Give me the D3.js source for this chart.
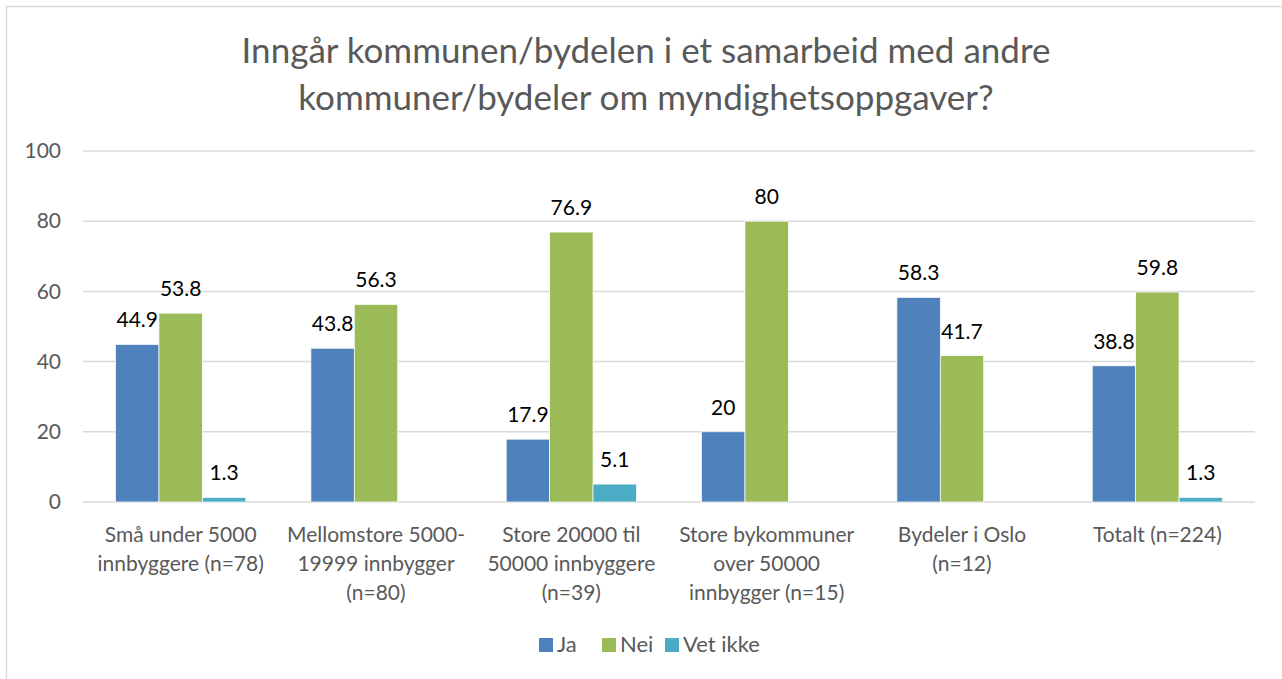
<!DOCTYPE html>
<html><head><meta charset="utf-8">
<script src="https://cdn.jsdelivr.net/npm/d3@7"></script>
<style>body{margin:0;background:#fff;}svg{display:block;font-family:Lato,"Open Sans",sans-serif;}</style>
</head><body>
<svg id="chart" width="1282" height="679"></svg>
<script>
const titleLines = ["Inngår kommunen/bydelen i et samarbeid med andre", "kommuner/bydeler om myndighetsoppgaver?"];
const categories = [
  ["Små under 5000", "innbyggere (n=78)"],
  ["Mellomstore 5000-", "19999 innbygger", "(n=80)"],
  ["Store 20000 til", "50000 innbyggere", "(n=39)"],
  ["Store bykommuner", "over 50000", "innbygger (n=15)"],
  ["Bydeler i Oslo", "(n=12)"],
  ["Totalt (n=224)"]
];
const seriesNames = ["Ja", "Nei", "Vet ikke"];
const jaValues = [44.9, 43.8, 17.9, 20, 58.3, 38.8];
const neiValues = [53.8, 56.3, 76.9, 80, 41.7, 59.8];
const vetIkkeValues = [1.3, null, 5.1, null, null, 1.3];
const yTicks = [0, 20, 40, 60, 80, 100];
const colors = ["#4f81bd", "#9bbb59", "#4bacc6"];

const svg = d3.select("#chart");
svg.append("rect").attr("x", 6.5).attr("y", 6.5).attr("width", 1300).attr("height", 700)
  .attr("fill", "#fff").attr("stroke", "#d9d9d9").attr("stroke-width", 1.5);

const pLeft = 83, pRight = 1255, pTop = 151, pBottom = 502;
const x = d3.scaleBand().domain(d3.range(categories.length)).range([pLeft, pRight]);
const y = d3.scaleLinear().domain([0, 100]).range([pBottom, pTop]);
const bw = x.bandwidth() / 4.5;
const xs = d3.scaleBand().domain(d3.range(3)).range([0, bw * 3]);

// title
svg.append("g").selectAll("text").data(titleLines).join("text")
  .attr("x", 646).attr("y", (d, i) => 63 + i * 47)
  .attr("text-anchor", "middle").attr("font-size", 35).attr("fill", "#595959").text(d => d);

// gridlines
svg.append("g").selectAll("line").data(yTicks).join("line")
  .attr("x1", pLeft).attr("x2", pRight).attr("y1", d => y(d)).attr("y2", d => y(d))
  .attr("stroke", "#d9d9d9").attr("stroke-width", 1.5);

// y axis labels
const yAxis = d3.axisLeft(y).tickValues(yTicks).tickSize(0).tickPadding(0);
const ya = svg.append("g").attr("transform", `translate(${pLeft - 22},0)`).call(yAxis);
ya.select(".domain").remove();
ya.selectAll("text").attr("font-size", 21).attr("fill", "#595959").attr("font-family", "Lato,'Open Sans',sans-serif");

// bars
const seriesData = [jaValues, neiValues, vetIkkeValues];
seriesData.forEach((vals, si) => {
  const g = svg.append("g");
  const data = vals.map((v, i) => ({v, i})).filter(d => d.v !== null);
  g.selectAll("rect").data(data).join("rect")
    .attr("x", d => x(d.i) + x.bandwidth() / 2 - bw * 1.5 + xs(si))
    .attr("width", bw)
    .attr("y", d => y(d.v)).attr("height", d => y(0) - y(d.v))
    .attr("fill", colors[si]).attr("stroke", "#fff").attr("stroke-width", 0.7);
  g.selectAll("text").data(data).join("text")
    .attr("x", d => x(d.i) + x.bandwidth() / 2 - bw * 1.5 + xs(si) + bw / 2)
    .attr("y", d => y(d.v) - 17)
    .attr("text-anchor", "middle").attr("font-size", 21).attr("fill", "#000").text(d => d.v);
});

// x labels
const xl = svg.append("g");
categories.forEach((lines, i) => {
  xl.append("g").selectAll("text").data(lines).join("text")
    .attr("x", x(i) + x.bandwidth() / 2).attr("y", (d, j) => 542 + j * 29)
    .attr("text-anchor", "middle").attr("font-size", 21).attr("fill", "#595959").text(d => d);
});

// legend
const legendX = [539, 602, 665];
const lg = svg.append("g");
seriesNames.forEach((n, i) => {
  lg.append("rect").attr("x", legendX[i]).attr("y", 638).attr("width", 14).attr("height", 14).attr("fill", colors[i]);
  lg.append("text").attr("x", legendX[i] + 18).attr("y", 652).attr("font-size", 22).attr("fill", "#595959").text(n);
});
</script>
</body></html>
